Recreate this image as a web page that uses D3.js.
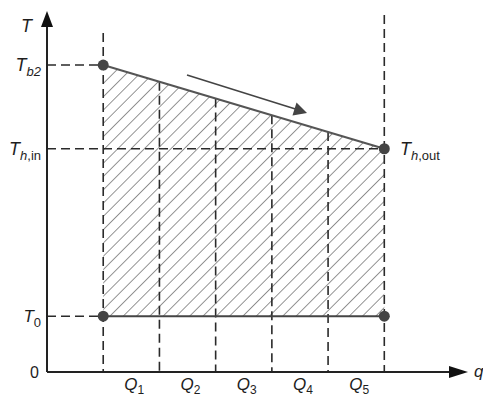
<!DOCTYPE html>
<html><head><meta charset="utf-8">
<script src="https://cdn.jsdelivr.net/npm/d3@7"></script>
<style>body{margin:0;background:#fff}svg{display:block}text{font-family:"Liberation Sans",Arial,sans-serif;fill:#1e1e1e}</style>
</head><body><svg id="c" width="483" height="401"></svg>
<script>
// Data
const boundaries = [1, 2, 3, 4, 5, 6];          // q positions of segment borders
const segLabels = ["1", "2", "3", "4", "5"];     // Q subscripts
const T0 = 1.0, ThIn = 4.0, Tb2 = 5.5;           // temperature levels
const ThOut = 4.0;                               // outlet temperature at q = 6
const topLine = [[1, Tb2], [6, ThOut]];
const bottomLine = [[1, T0], [6, T0]];

const svg = d3.select("#c");
const x = d3.scaleLinear().domain([0, 7.4]).range([47, 463]);
const y = d3.scaleLinear().domain([0, 6.45]).range([372, 12]);
const hot = d3.scaleLinear().domain(topLine.map(d => d[0])).range(topLine.map(d => d[1]));

// hatch pattern
const defs = svg.append("defs");
const pat = defs.append("pattern").attr("id", "hatch").attr("patternUnits", "userSpaceOnUse")
  .attr("width", 9.4).attr("height", 9.4).attr("patternTransform", "rotate(45)");
pat.append("line").attr("x1", 0).attr("y1", 0).attr("x2", 0).attr("y2", 9.4)
  .attr("stroke", "#666").attr("stroke-width", 1.4);

const area = [[1, T0], [1, Tb2], [6, ThOut], [6, T0]];
svg.append("path").attr("d", d3.line().x(d => x(d[0])).y(d => y(d[1]))(area) + "Z")
  .attr("fill", "url(#hatch)");

const dash = { stroke: "#2a2a2a", "stroke-width": 1.6, "stroke-dasharray": "9,5" };
function dl(x1, y1, x2, y2) {
  const l = svg.append("line").attr("x1", x1).attr("y1", y1).attr("x2", x2).attr("y2", y2);
  Object.entries(dash).forEach(([k, v]) => l.attr(k, v));
}
// horizontal dashed
dl(x(0), y(Tb2), x(1), y(Tb2));
dl(x(0), y(ThIn), x(6), y(ThIn));
dl(x(0), y(T0), x(1), y(T0));
// vertical dashed
dl(x(1), 33, x(1), y(0));
dl(x(6), 15, x(6), y(0));
boundaries.slice(1, -1).forEach(b => dl(x(b), y(hot(b)), x(b), y(0)));

// solid lines
svg.append("path").attr("d", d3.line().x(d => x(d[0])).y(d => y(d[1]))(topLine))
  .attr("stroke", "#555").attr("stroke-width", 2).attr("fill", "none");
svg.append("path").attr("d", d3.line().x(d => x(d[0])).y(d => y(d[1]))(bottomLine))
  .attr("stroke", "#444").attr("stroke-width", 2).attr("fill", "none");

// points
[[1, Tb2], [6, ThOut], [1, T0], [6, T0]].forEach(p =>
  svg.append("circle").attr("cx", x(p[0])).attr("cy", y(p[1])).attr("r", 5.5).attr("fill", "#444"));

// flow arrow
svg.append("line").attr("x1", 187).attr("y1", 75).attr("x2", 297).attr("y2", 109.5)
  .attr("stroke", "#444").attr("stroke-width", 1.6);
svg.append("path").attr("d", "M307,113 L292.5,115.5 L296.5,102.5 Z").attr("fill", "#444");

// axes
svg.append("line").attr("x1", x(0)).attr("y1", y(0)).attr("x2", x(0)).attr("y2", 24)
  .attr("stroke", "#222").attr("stroke-width", 2);
svg.append("path").attr("d", `M${x(0)},11 L${x(0)-6},27 L${x(0)+6},27 Z`).attr("fill", "#111");
svg.append("line").attr("x1", x(0)).attr("y1", y(0)).attr("x2", 452).attr("y2", y(0))
  .attr("stroke", "#222").attr("stroke-width", 2);
svg.append("path").attr("d", `M468,${y(0)} L449,${y(0)-6} L449,${y(0)+6} Z`).attr("fill", "#111");

// labels
function lab(px, py, main, sub, opts = {}) {
  const t = svg.append("text").attr("x", px).attr("y", py).attr("text-anchor", opts.anchor || "start");
  t.append("tspan").attr("font-style", "italic").attr("font-size", opts.size || 18).text(main);
  if (sub) t.append("tspan").attr("font-size", opts.subSize || 13).attr("dy", opts.dy || 5)
    .attr("font-style", opts.subItalic ? "italic" : "normal").text(sub);
  return t;
}
lab(21, 32, "T", null, { size: 18 });
lab(41, y(Tb2) + 6, "T", "b2", { anchor: "end", subItalic: true });
const th = svg.append("text").attr("x", 41).attr("y", y(ThIn) + 6).attr("text-anchor", "end");
th.append("tspan").attr("font-style", "italic").attr("font-size", 18).text("T");
th.append("tspan").attr("font-size", 13).attr("dy", 5).attr("font-style", "italic").text("h");
th.append("tspan").attr("font-size", 13).text(",in");
lab(41, y(T0) + 6, "T", "0", { anchor: "end", size: 17 });
svg.append("text").attr("x", 39).attr("y", y(0) + 6).attr("text-anchor", "end").attr("font-size", 16).text("0");
const to = svg.append("text").attr("x", 400).attr("y", y(ThOut) + 6);
to.append("tspan").attr("font-style", "italic").attr("font-size", 18).text("T");
to.append("tspan").attr("font-size", 13).attr("dy", 5).attr("font-style", "italic").text("h");
to.append("tspan").attr("font-size", 13).text(",out");
svg.append("text").attr("x", 474).attr("y", y(0) + 5).attr("font-style", "italic").attr("font-size", 17).text("q");

segLabels.forEach((s, i) => {
  const cx = x((boundaries[i] + boundaries[i + 1]) / 2);
  lab(cx + 3, 390, "Q", s, { anchor: "middle", size: 17, subSize: 12, dy: 4 });
});
</script></body></html>
